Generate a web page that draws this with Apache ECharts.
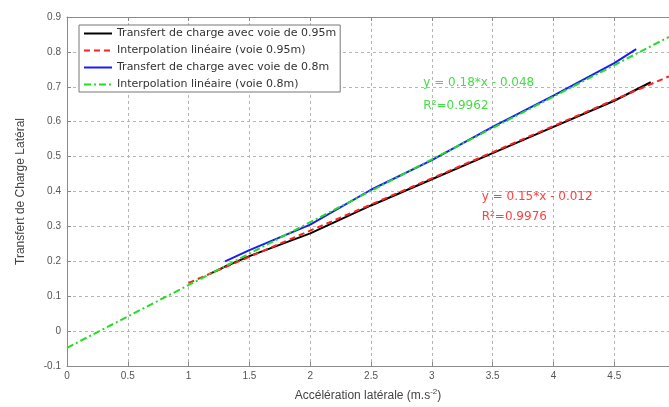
<!DOCTYPE html>
<html>
<head>
<meta charset="utf-8">
<script src="https://cdn.jsdelivr.net/npm/echarts@6/dist/echarts.min.js"></script>
<style>
  html, body { margin: 0; padding: 0; background: #fff; }
  #chart { width: 669px; height: 407px; }
</style>
</head>
<body>
<div id="chart"></div>
<script>
    "use strict";

    // series names
    var names = [
        'Transfert de charge avec voie de 0.95m',
        'Interpolation linéaire (voie 0.95m)',
        'Transfert de charge avec voie de 0.8m',
        'Interpolation linéaire (voie 0.8m)'
    ];

    // measured load transfer, track 0.95m
    var accel095 = [1.17, 1.3, 1.5, 2.0, 2.5, 3.0, 3.5, 4.0, 4.5, 4.8];
    var transf095 = [0.163, 0.185, 0.215, 0.28, 0.36, 0.435, 0.51, 0.585, 0.66, 0.713];

    // measured load transfer, track 0.8m
    var accel08 = [1.3, 1.5, 2.0, 2.5, 3.0, 3.5, 4.0, 4.5, 4.68];
    var transf08 = [0.2, 0.232, 0.305, 0.405, 0.49, 0.585, 0.675, 0.768, 0.808];

    // fitted lines (end points)
    var fitX095 = [1.0, 4.95];
    var fitY095 = [0.138, 0.73];
    var fitX08 = [0, 4.95];
    var fitY08 = [-0.048, 0.843];

    // fit annotations
    var fitText08 = ['y = 0.18*x - 0.048', 'R²=0.9962'];
    var fitText095 = ['y = 0.15*x - 0.012', 'R²=0.9976'];

    function pairs(xs, ys) {
        return xs.map(function (x, i) { return [x, ys[i]]; });
    }

    var font = '"Liberation Sans", Arial, sans-serif';
    var wideFont = '"DejaVu Sans", sans-serif';
    var axisGrey = '#8a8a8a';
    var gridLine = { show: true, lineStyle: { color: '#b5b5b5', type: [3, 3], width: 1 } };

    var chart = echarts.init(document.getElementById('chart'));

    var option = {
        animation: false,
        backgroundColor: '#fff',
        textStyle: { fontFamily: font },
        grid: { left: 67, top: 17, bottom: 39, right: 0 },
        legend: {
            data: names,
            orient: 'vertical',
            left: 79,
            top: 25,
            itemWidth: 28,
            itemHeight: 10,
            itemGap: 6,
            padding: [3, 4, 2, 4],
            borderColor: '#777',
            borderWidth: 1,
            backgroundColor: '#fff',
            itemStyle: { opacity: 0 },
            textStyle: { fontSize: 11, color: '#333', fontFamily: wideFont },
            inactiveColor: '#ccc'
        },
        xAxis: [
            {
                type: 'value',
                min: 0,
                max: 4.95,
                interval: 0.5,
                name: 'Accélération latérale (m.s{sup|-2})',
                nameLocation: 'middle',
                nameGap: 22,
                nameTextStyle: {
                    fontSize: 12, color: '#444',
                    rich: { sup: { fontSize: 8, color: '#444', verticalAlign: 'top', padding: [0, 0, 8, 0] } }
                },
                axisLine: { show: true, onZero: false, lineStyle: { color: axisGrey } },
                axisTick: { inside: true, length: 4, lineStyle: { color: axisGrey } },
                axisLabel: { fontSize: 10, color: '#555', margin: 5, showMaxLabel: false },
                splitLine: gridLine
            },
            {
                type: 'value',
                position: 'top',
                min: 0,
                max: 4.95,
                interval: 0.5,
                axisLine: { show: true, onZero: false, lineStyle: { color: axisGrey } },
                axisTick: { inside: true, length: 4, lineStyle: { color: axisGrey } },
                axisLabel: { show: false },
                splitLine: { show: false }
            }
        ],
        yAxis: {
            type: 'value',
            min: -0.1,
            max: 0.9,
            interval: 0.1,
            name: 'Transfert de Charge Latéral',
            nameLocation: 'middle',
            nameGap: 40,
            nameTextStyle: { fontSize: 12, color: '#444' },
            axisLine: { show: true, onZero: false, lineStyle: { color: axisGrey } },
            axisTick: { inside: true, length: 4, lineStyle: { color: axisGrey } },
            axisLabel: {
                fontSize: 10, color: '#555', margin: 6,
                formatter: function (v) { return String(+v.toFixed(1)); }
            },
            splitLine: gridLine
        },
        series: [
            {
                name: names[0],
                type: 'line',
                symbol: 'none',
                color: '#000000',
                lineStyle: { width: 2, color: '#000000' },
                data: pairs(accel095, transf095),
                z: 3
            },
            {
                name: names[1],
                type: 'line',
                symbol: 'none',
                color: '#ff2020',
                lineStyle: { width: 2, color: '#ff2020', type: [6, 4] },
                data: pairs(fitX095, fitY095),
                z: 4
            },
            {
                name: names[2],
                type: 'line',
                symbol: 'none',
                color: '#1a1aff',
                lineStyle: { width: 2, color: '#1a1aff' },
                data: pairs(accel08, transf08),
                z: 3
            },
            {
                name: names[3],
                type: 'line',
                symbol: 'none',
                color: '#22dd22',
                lineStyle: { width: 2, color: '#22dd22', type: [7, 3, 2, 3] },
                data: pairs(fitX08, fitY08),
                z: 4
            }
        ]
    };

    chart.setOption(option);

    // fit equations, placed in data coordinates
    function textAt(x, y, str, color) {
        var p = chart.convertToPixel({ xAxisIndex: 0, yAxisIndex: 0 }, [x, y]);
        return {
            type: 'text',
            x: p[0],
            y: p[1],
            z: 10,
            style: { text: str, fill: color, font: '12px ' + wideFont, textVerticalAlign: 'middle' }
        };
    }

    chart.setOption({
        graphic: [
            textAt(2.93, 0.712, fitText08[0], '#44dd44'),
            textAt(2.93, 0.645, fitText08[1], '#44dd44'),
            textAt(3.41, 0.384, fitText095[0], '#ff4040'),
            textAt(3.41, 0.327, fitText095[1], '#ff4040')
        ]
    });
</script>
</body>
</html>
